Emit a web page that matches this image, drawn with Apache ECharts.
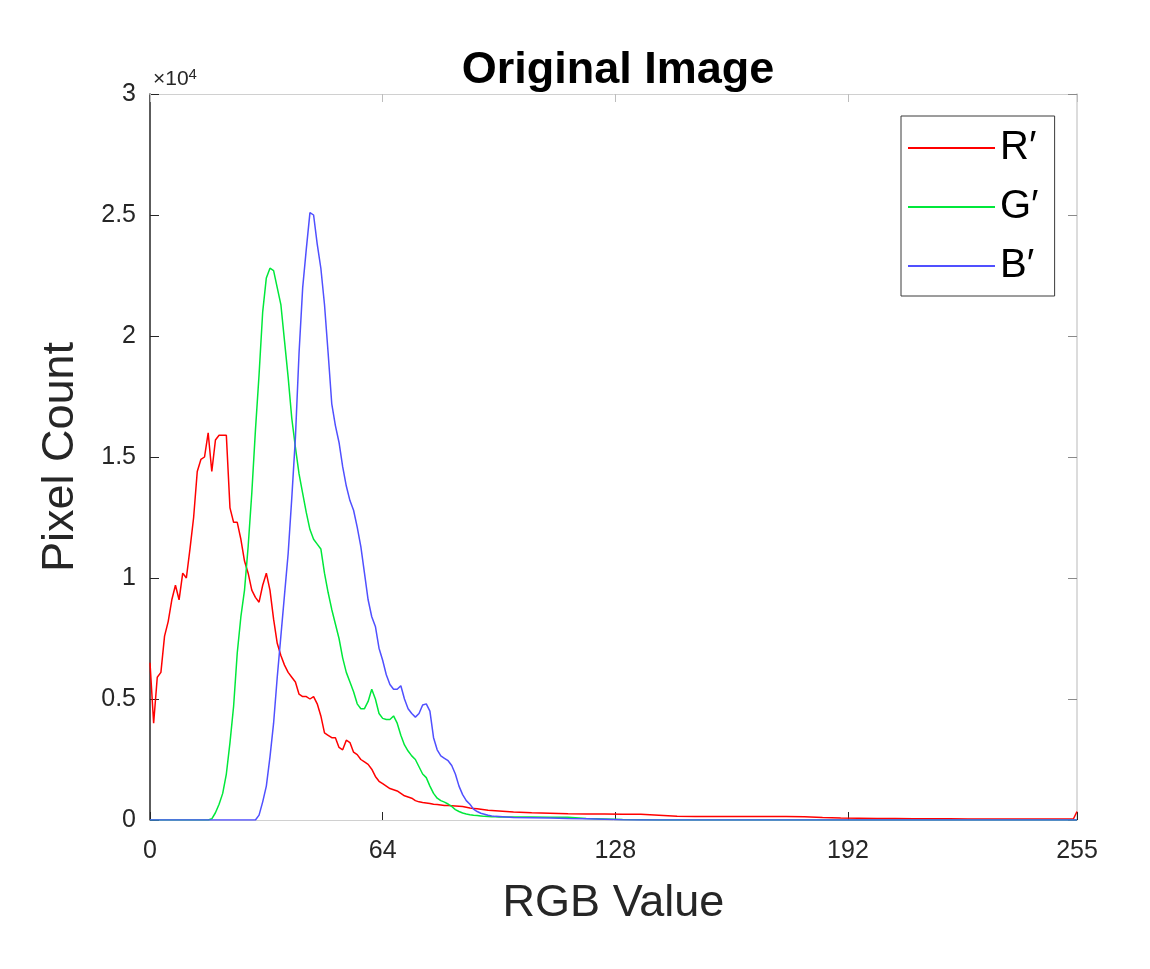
<!DOCTYPE html>
<html>
<head>
<meta charset="utf-8">
<script src="https://cdn.jsdelivr.net/npm/echarts@6/dist/echarts.min.js"></script>
<style>html,body{margin:0;padding:0;background:#fff;}#chart{width:1150px;height:969px;}</style>
</head>
<body>
<div id="chart"></div>
<script>
// RGB value bins (x positions)
var rgbValues = [0,1,2,3,4,5,6,7,8,9,10,11,12,13,14,15,16,17,18,19,20,21,22,23,24,25,26,27,28,29,30,31,32,33,34,35,36,37,38,39,40,41,42,43,44,45,46,47,48,49,50,51,52,53,54,55,56,57,58,59,60,61,62,63,64,65,66,67,68,69,70,71,72,73,74,75,76,77,78,79,80,81,82,83,84,85,86,87,88,89,90,91,92,93,94,95,96,97,98,99,100,105,110,115,120,125,130,135,140,145,150,155,160,165,170,175,180,185,190,195,200,205,210,215,220,225,230,235,240,245,250,254,255];

var redCounts = [6500,4000,5900,6100,7600,8200,9100,9700,9100,10200,10000,11200,12500,14400,14900,15000,16000,14400,15700,15900,15900,15900,12900,12300,12300,11600,10700,10200,9500,9200,9000,9700,10200,9500,8300,7300,6800,6400,6100,5900,5700,5200,5100,5100,5000,5100,4800,4300,3600,3500,3400,3400,3000,2900,3300,3200,2800,2700,2500,2400,2300,2100,1800,1600,1500,1400,1300,1250,1200,1100,1000,950,900,800,750,720,700,680,650,640,620,600,600,590,580,570,560,530,500,480,460,440,420,400,390,380,370,360,350,340,330,
  300,280,260,250,250,240,240,200,160,140,140,140,140,140,140,130,100,80,70,60,60,50,50,50,40,40,40,40,40,40,40,350];

var greenCounts = [0,0,0,0,0,0,0,0,0,0,0,0,0,0,0,0,0,50,300,650,1100,1900,3200,4700,6900,8400,9500,11300,13500,16100,18400,21000,22400,22800,22700,22000,21300,19800,18300,16600,15400,14300,13500,12700,12000,11600,11400,11200,10200,9400,8700,8100,7500,6700,6100,5700,5300,4800,4600,4600,4900,5400,5000,4400,4200,4150,4150,4300,4000,3500,3100,2850,2650,2500,2200,1900,1750,1400,1100,900,800,740,660,560,430,350,290,250,220,200,190,170,150,140,130,130,120,120,120,120,120,
  120,110,110,60,40,20,10,0,0,0,0,0,0,0,0,0,0,0,0,0,0,0,0,0,0,0,0,0,0,0,0,0];

var blueCounts = [0,0,0,0,0,0,0,0,0,0,0,0,0,0,0,0,0,0,0,0,0,0,0,0,0,0,0,0,0,0,200,750,1400,2600,4000,5900,7600,9300,11000,13300,15800,19300,22000,23600,25100,25000,23800,22800,21300,19300,17200,16300,15600,14600,13800,13200,12800,12100,11300,10200,9100,8400,8000,7100,6600,6000,5600,5400,5400,5550,5000,4600,4400,4250,4400,4750,4800,4500,3400,2900,2650,2550,2450,2250,1900,1400,1050,800,650,450,350,280,240,200,170,150,140,130,120,110,100,
  90,80,60,50,30,10,0,0,0,0,0,0,0,0,0,0,0,0,0,0,0,0,0,0,0,0,0,0,0,0,0,0];

var seriesNames = ['R\u2032', 'G\u2032', 'B\u2032'];
var seriesColors = ['#ff0000', '#00e83a', '#5050ff'];
var xTicks = [0, 64, 128, 192, 255];

function pairs(ys) {
  return rgbValues.map(function (x, i) { return [x, ys[i]]; });
}

var chart = echarts.init(document.getElementById('chart'), null, {renderer: 'canvas'});
var font = 'Liberation Sans, Arial, Helvetica, sans-serif';
var option = {
  backgroundColor: '#ffffff',
  animation: false,
  title: [
    {text: 'Original Image', left: 613, top: 43, textAlign: 'center',
     textStyle: {fontFamily: font, fontSize: 45, fontWeight: 'bold', color: '#000'}},
    {text: '\u00d710{s|4}', left: 148, top: 62,
     textStyle: {fontFamily: font, fontSize: 21, fontWeight: 'normal', color: '#262626',
       rich: {s: {fontFamily: font, fontSize: 15, color: '#262626', verticalAlign: 'top', padding: [0,0,10,0]}}}}
  ],
  grid: {left: 150, right: 73, top: 94, bottom: 149, show: false},
  legend: {
    orient: 'vertical', left: 901, top: 116,
    padding: [12, 16, 10, 7],
    itemWidth: 87, itemHeight: 2, itemGap: 19,
    icon: 'rect',
    backgroundColor: '#ffffff', borderColor: '#3a3a3a', borderWidth: 1,
    textStyle: {fontFamily: font, fontSize: 40, color: '#000'},
    data: seriesNames
  },
  xAxis: [
    {type: 'value', min: 0, max: 255, interval: 64, position: 'bottom',
     name: 'RGB Value', nameLocation: 'middle', nameGap: 61,
     nameTextStyle: {fontFamily: font, fontSize: 45, color: '#262626'},
     axisLine: {show: true, onZero: false, lineStyle: {color: '#d0d0d0', width: 1}},
     axisTick: {show: true, inside: true, length: 8, lineStyle: {color: '#262626'}},
     axisLabel: {fontFamily: font, fontSize: 25, color: '#262626', margin: 19,
       showMaxLabel: true, showMinLabel: true,
       formatter: function (v) { return xTicks.indexOf(Math.round(v)) >= 0 ? String(Math.round(v)) : ''; }},
     splitLine: {show: false}},
    {type: 'value', min: 0, max: 255, interval: 64, position: 'top',
     axisLine: {show: true, onZero: false, lineStyle: {color: '#d0d0d0', width: 1}},
     axisTick: {show: true, inside: true, length: 8, lineStyle: {color: '#bdbdbd'}},
     axisLabel: {show: false}, splitLine: {show: false}}
  ],
  yAxis: [
    {type: 'value', min: 0, max: 30000, interval: 5000, position: 'left',
     name: 'Pixel Count', nameLocation: 'middle', nameGap: 67,
     nameTextStyle: {fontFamily: font, fontSize: 45, color: '#262626'},
     axisLine: {show: true, onZero: false, lineStyle: {color: '#262626', width: 1.5}},
     axisTick: {show: true, inside: true, length: 9, lineStyle: {color: '#262626'}},
     axisLabel: {fontFamily: font, fontSize: 25, color: '#262626', margin: 14,
       formatter: function (v) { return String(v / 10000); }},
     splitLine: {show: false}},
    {type: 'value', min: 0, max: 30000, interval: 5000, position: 'right',
     axisLine: {show: true, onZero: false, lineStyle: {color: '#d0d0d0', width: 1.5}},
     axisTick: {show: true, inside: true, length: 9, lineStyle: {color: '#8a8a8a'}},
     axisLabel: {show: false}, splitLine: {show: false}}
  ],
  series: [
    {name: seriesNames[0], type: 'line', data: pairs(redCounts), symbol: 'none',
     lineStyle: {color: seriesColors[0], width: 1.5}, itemStyle: {color: seriesColors[0]}, z: 3},
    {name: seriesNames[1], type: 'line', data: pairs(greenCounts), symbol: 'none',
     lineStyle: {color: seriesColors[1], width: 1.5}, itemStyle: {color: seriesColors[1]}, z: 4},
    {name: seriesNames[2], type: 'line', data: pairs(blueCounts), symbol: 'none',
     lineStyle: {color: seriesColors[2], width: 1.5}, itemStyle: {color: seriesColors[2]}, z: 5}
  ]
};
chart.setOption(option);
</script>
</body>
</html>
